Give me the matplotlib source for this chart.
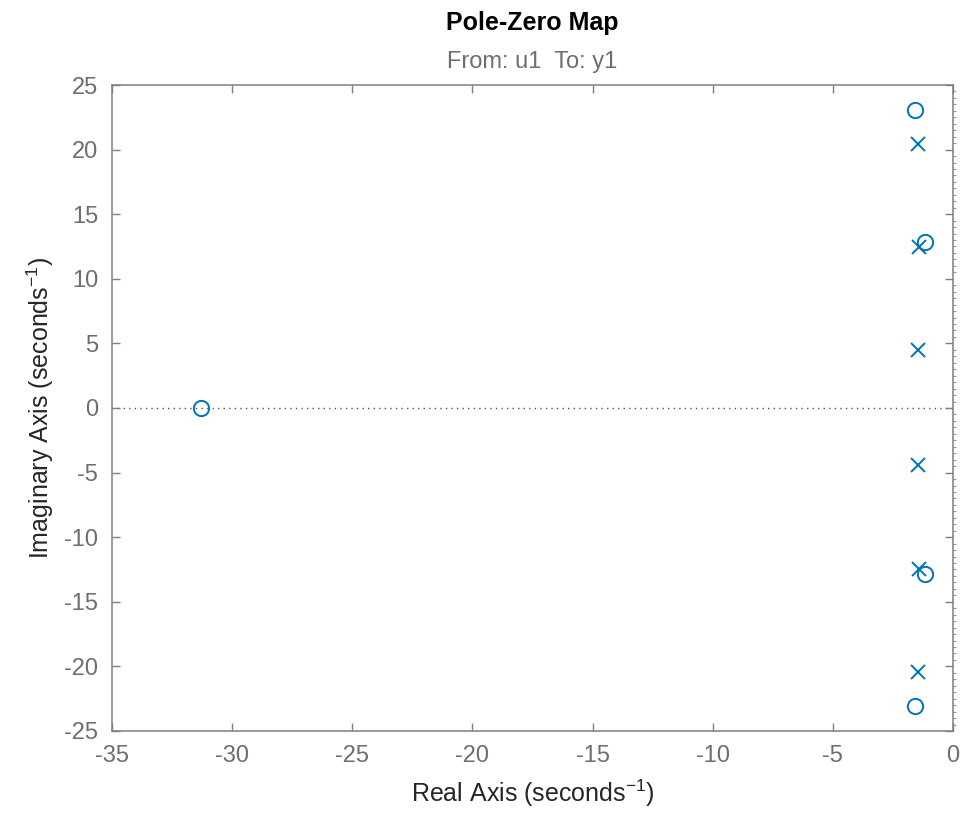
import numpy as np
import matplotlib.pyplot as plt
from matplotlib.ticker import MultipleLocator

plt.rcParams['font.family'] = ['Liberation Sans', 'DejaVu Sans']
plt.rcParams['axes.unicode_minus'] = False
plt.rcParams['mathtext.fontset'] = 'custom'
plt.rcParams['mathtext.rm'] = 'Liberation Sans'
plt.rcParams['mathtext.it'] = 'Liberation Sans'
plt.rcParams['mathtext.default'] = 'regular'

# poles and zeros (real, imag)
pole_re = [-1.45, -1.45, -1.40, -1.40, -1.45, -1.45]
pole_im = [20.45, -20.45, 12.45, -12.45, 4.45, -4.45]
zero_re = [-31.3, -1.6, -1.6, -1.17, -1.17]
zero_im = [0.0, 23.1, -23.1, 12.85, -12.85]

xticks = [-35, -30, -25, -20, -15, -10, -5, 0]
yticks = [-25, -20, -15, -10, -5, 0, 5, 10, 15, 20, 25]

blue = '#0072BD'
gray = '#6e6e6e'
dark = '#262626'

fig = plt.figure(figsize=(9.63, 8.15), dpi=100)
ax = fig.add_axes([0.1163, 0.1031, 0.8733, 0.7926])

ax.axhline(0, color='#555555', linestyle=(0, (1, 3)), linewidth=1.0, zorder=1)

ax.plot(pole_re, pole_im, linestyle='none', marker='x', markersize=10,
        markeredgewidth=1.4, color=blue, zorder=3)
ax.plot(zero_re, zero_im, linestyle='none', marker='o', markersize=11,
        markeredgewidth=1.4, markerfacecolor='none', color=blue, zorder=3)

ax.set_xlim(-35, 0)
ax.set_ylim(-25, 25)
ax.set_xticks(xticks)
ax.set_yticks(yticks)
ax.yaxis.set_minor_locator(MultipleLocator(0.5))

for s in ax.spines.values():
    s.set_color('#7f7f7f')
    s.set_linewidth(1.1)

ax.tick_params(which='major', direction='in', length=6, width=1.0,
               top=True, right=True, color='#7f7f7f',
               labelsize=17, labelcolor=gray)
ax.tick_params(axis='x', which='major', pad=10)
ax.tick_params(axis='y', which='major', pad=10)
ax.tick_params(axis='y', which='minor', direction='out', length=2.5,
               width=0.8, left=False, right=True, color='#9a9a9a')

ax.set_xlabel('Real Axis (seconds$^{-1}$)', fontsize=18, color=dark, labelpad=8)
ax.set_ylabel('Imaginary Axis (seconds$^{-1}$)', fontsize=18, color=dark, labelpad=6)

fig.text(0.5529, 0.972, 'Pole-Zero Map', ha='center', va='center',
         fontsize=18, fontweight='bold', color='black')
ax.set_title('From: u1  To: y1', fontsize=17, color=gray, pad=12)

fig.savefig('out.png', dpi=100)
